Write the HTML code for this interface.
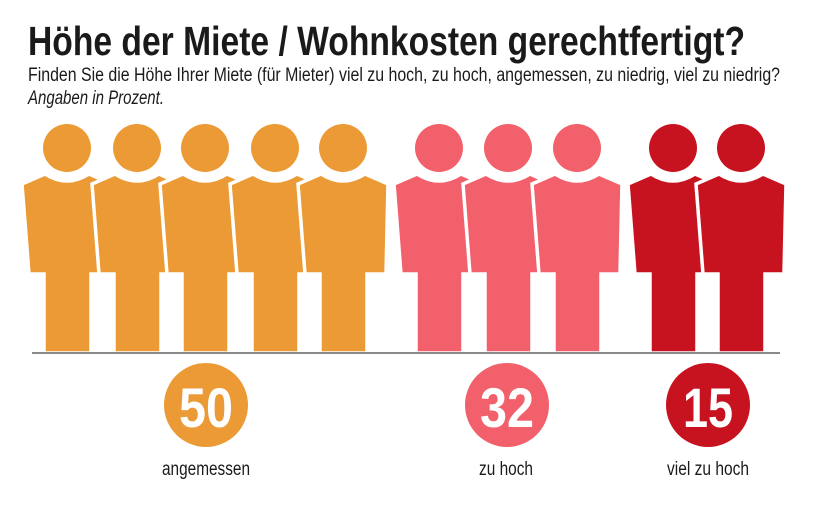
<!DOCTYPE html>
<html><head><meta charset="utf-8"><style>
html,body{margin:0;padding:0;background:#fff;}
svg{display:block;}
text{font-family:"Liberation Sans",sans-serif;}
</style></head><body>
<svg width="815" height="506" viewBox="0 0 815 506" xmlns="http://www.w3.org/2000/svg">
<text x="28" y="55" font-size="41" font-weight="bold" fill="#1a1a1a" textLength="717" lengthAdjust="spacingAndGlyphs">Höhe der Miete / Wohnkosten gerechtfertigt?</text>
<text x="28" y="81" font-size="19" fill="#1a1a1a" textLength="752" lengthAdjust="spacingAndGlyphs">Finden Sie die Höhe Ihrer Miete (für Mieter) viel zu hoch, zu hoch, angemessen, zu niedrig, viel zu niedrig?</text>
<text x="28" y="104" font-size="19" font-style="italic" fill="#1a1a1a" textLength="136" lengthAdjust="spacingAndGlyphs">Angaben in Prozent.</text>
<defs>
<g id="p">
<path stroke="#fff" stroke-width="3.5" d="M-45,184 L-22,174 Q0,188 22,174 L45,184 L43,274 L24,274 L24,353 L-23,353 L-23,274 L-38,274 Z"/>
<circle cx="0" cy="148" r="24"/>
</g>
</defs>
<g>
<use href="#p" x="67" fill="#eb9a35"/>
<use href="#p" x="137" fill="#eb9a35"/>
<use href="#p" x="205" fill="#eb9a35"/>
<use href="#p" x="275" fill="#eb9a35"/>
<use href="#p" x="343" fill="#eb9a35"/>
<use href="#p" x="439" fill="#f2606b"/>
<use href="#p" x="508" fill="#f2606b"/>
<use href="#p" x="577" fill="#f2606b"/>
<use href="#p" x="673" fill="#c7121f"/>
<use href="#p" x="741" fill="#c7121f"/>
</g>
<rect x="32" y="352" width="748" height="2" fill="#8a8a8a"/>
<circle cx="206" cy="405" r="42" fill="#eb9a35"/>
<circle cx="507" cy="405" r="42" fill="#f2606b"/>
<circle cx="708" cy="405" r="42" fill="#c7121f"/>
<g font-size="56" font-weight="bold" fill="#fff" text-anchor="middle">
<text x="206" y="427" textLength="54" lengthAdjust="spacingAndGlyphs">50</text>
<text x="507" y="427" textLength="54" lengthAdjust="spacingAndGlyphs">32</text>
<text x="708" y="427" textLength="50" lengthAdjust="spacingAndGlyphs">15</text>
</g>
<g font-size="19" fill="#1a1a1a" text-anchor="middle">
<text x="206" y="475" textLength="88" lengthAdjust="spacingAndGlyphs">angemessen</text>
<text x="506" y="475" textLength="54" lengthAdjust="spacingAndGlyphs">zu hoch</text>
<text x="708" y="475" textLength="82" lengthAdjust="spacingAndGlyphs">viel zu hoch</text>
</g>
</svg>
</body></html>
